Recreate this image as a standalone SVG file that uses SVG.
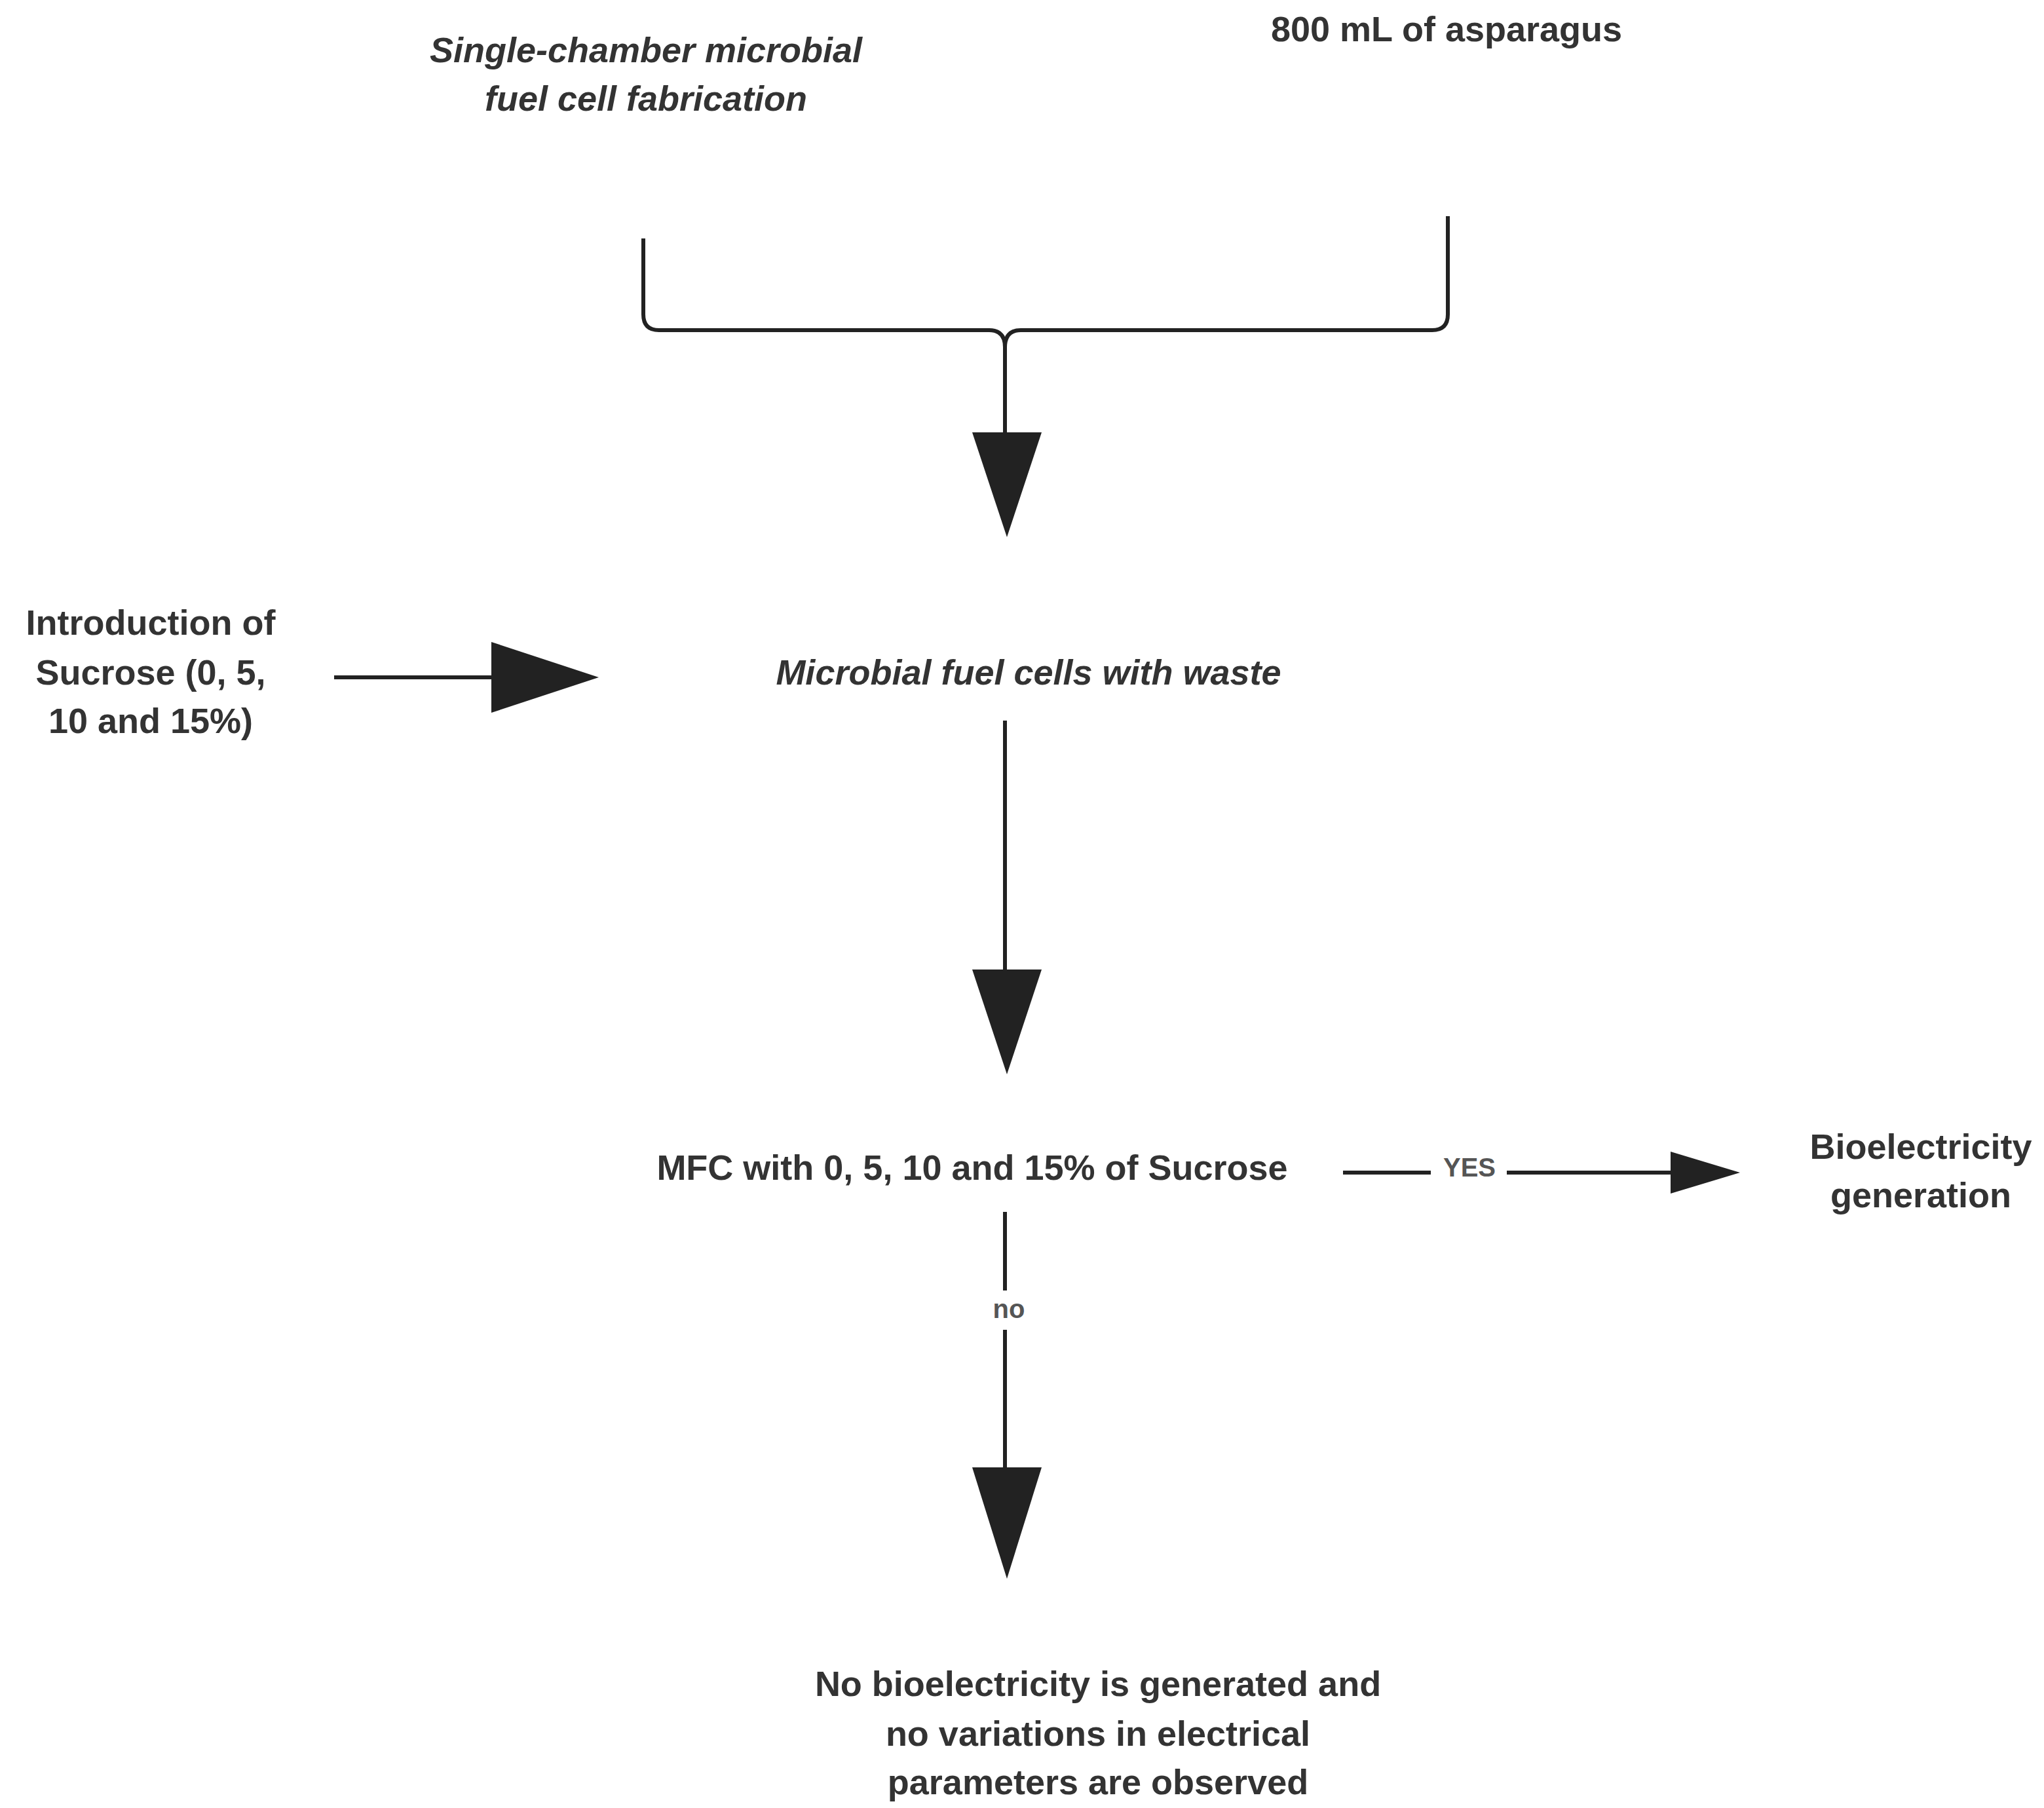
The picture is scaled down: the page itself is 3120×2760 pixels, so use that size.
<svg xmlns="http://www.w3.org/2000/svg" width="3120" height="2760" viewBox="0 0 3120 2760">
<style>
.t{font-family:"Liberation Sans",Arial,sans-serif;font-weight:bold;font-size:54px;fill:#333;text-anchor:middle;dominant-baseline:central}
.i{font-style:italic}
.l{stroke:#222;stroke-width:6;fill:none}
.h{fill:#222}
.s{font-family:"Liberation Sans",Arial,sans-serif;font-weight:bold;font-size:40px;fill:#555;text-anchor:middle;dominant-baseline:central}
</style>
<rect width="3120" height="2760" fill="#fff"/>
<g id="n1"><text class="t i" x="986" y="76">Single-chamber microbial</text><text class="t i" x="986" y="150">fuel cell fabrication</text></g>
<g id="n2"><text class="t" x="2208" y="44">800 mL of asparagus</text></g>
<g id="n3"><text class="t" x="230" y="950">Introduction of</text><text class="t" x="230" y="1026">Sucrose (0, 5,</text><text class="t" x="230" y="1100">10 and 15%)</text></g>
<g id="n4"><text class="t i" x="1570" y="1026">Microbial fuel cells with waste</text></g>
<g id="n5"><text class="t" x="1484" y="1782">MFC with 0, 5, 10 and 15% of Sucrose</text></g>
<g id="n6"><text class="t" x="2932" y="1750">Bioelectricity</text><text class="t" x="2932" y="1824">generation</text></g>
<g id="n7"><text class="t" x="1676" y="2570">No bioelectricity is generated and</text><text class="t" x="1676" y="2646">no variations in electrical</text><text class="t" x="1676" y="2720">parameters are observed</text></g>
<g id="connectors">
<path class="l" d="M982 364 V480 Q982 504 1006 504 H1510 Q1534 504 1534 530 Q1534 504 1558 504 H2186 Q2210 504 2210 480 V330"/>
<path class="l" d="M1534 530 V670"/>
<polygon class="h" points="1484,660 1590,660 1537,820"/>
<path class="l" d="M510 1034 H760"/>
<polygon class="h" points="750,980 750,1088 914,1034"/>
<path class="l" d="M1534 1100 V1490"/>
<polygon class="h" points="1484,1480 1590,1480 1537,1640"/>
<path class="l" d="M2050 1790 H2184 M2300 1790 H2560"/>
<text class="s" x="2243" y="1782">YES</text>
<polygon class="h" points="2550,1758 2550,1822 2656,1790"/>
<path class="l" d="M1534 1850 V1970 M1534 2030 V2250"/>
<text class="s" x="1540" y="1998">no</text>
<polygon class="h" points="1484,2240 1590,2240 1537,2410"/>
</g>
</svg>
